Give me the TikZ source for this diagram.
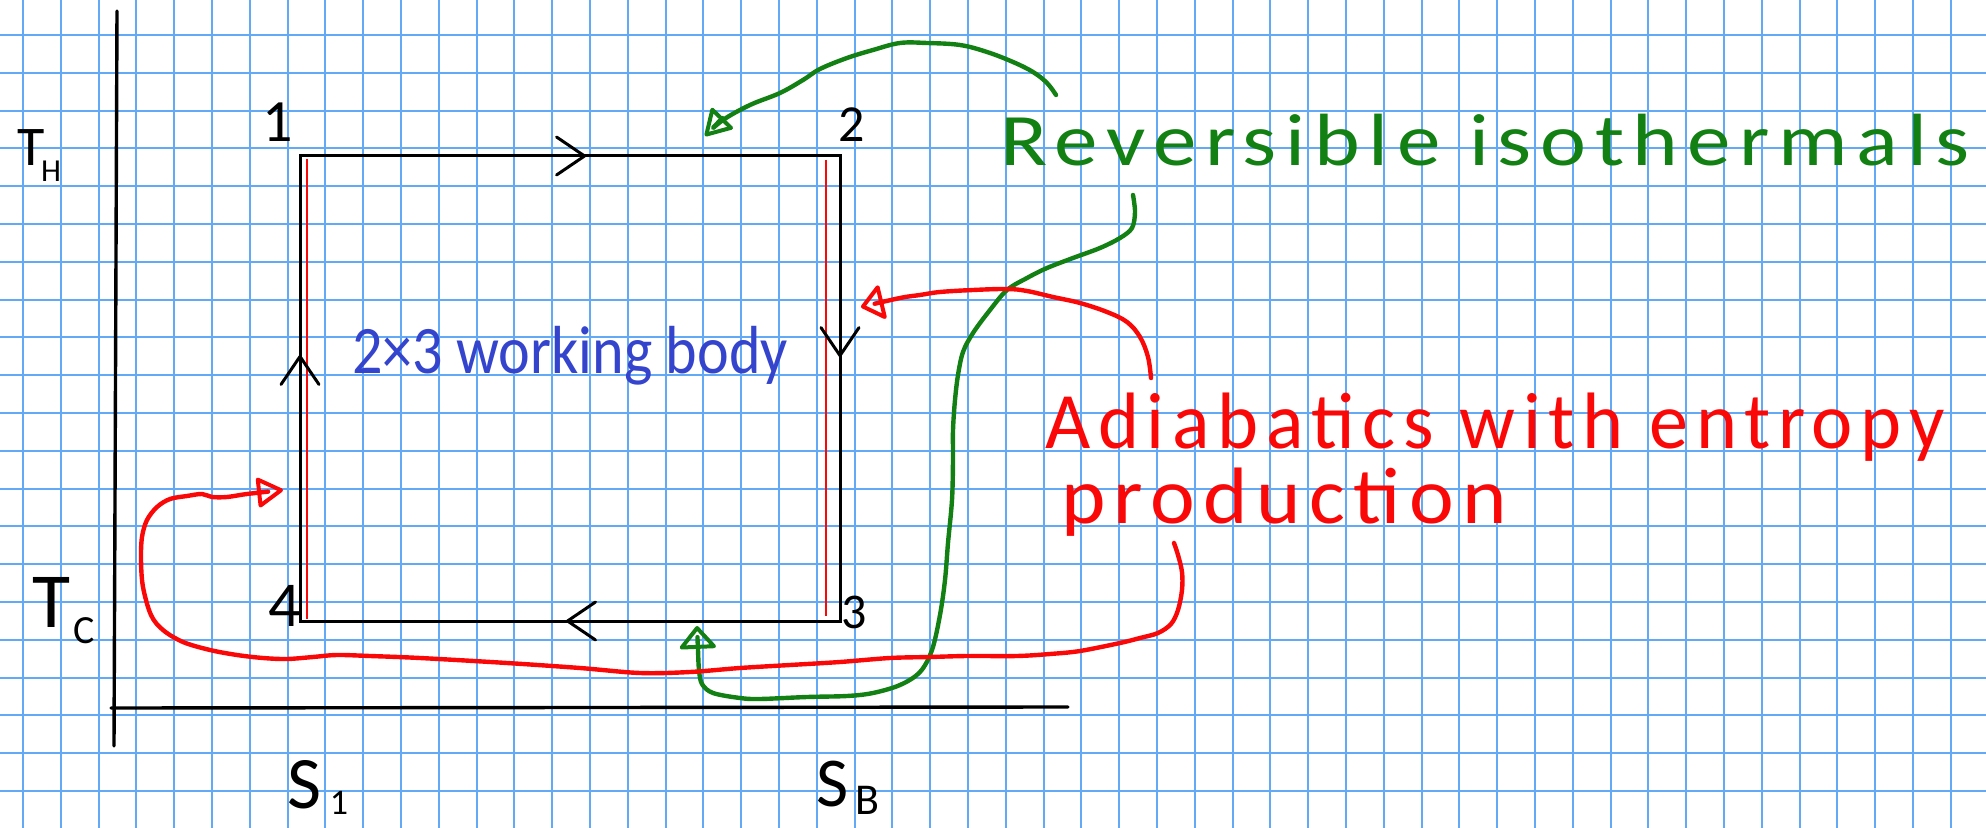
\documentclass[tikz,border=0pt]{standalone}
\usepackage{fontspec}
\usetikzlibrary{arrows.meta,decorations.markings}
\newfontfamily\hand{Carlito}
\newfontfamily\handsp[LetterSpace=10]{Carlito}
\definecolor{gridblue}{RGB}{98,170,245}
\definecolor{pengreen}{RGB}{18,128,18}
\definecolor{penred}{RGB}{250,8,8}
\definecolor{penblue}{RGB}{52,68,205}
\newsavebox\fitbox
\newcommand\fitw[2]{\sbox\fitbox{#2}\pgfmathsetmacro\fitratio{#1/\the\wd\fitbox}\scalebox{\fitratio}[1]{\usebox\fitbox}}
\newcommand\fsz[1]{\fontsize{#1}{#1}\selectfont}
\tikzset{
  gridline/.style={gridblue, line width=1pt},
  axisline/.style={black, line width=1.7pt, line cap=round},
  cyc/.style={black, line width=1.5pt},
  innerline/.style={penred, line width=1.2pt},
  gpen/.style={pengreen, line width=2.2pt, line cap=round, line join=round},
  rpen/.style={penred, line width=2.2pt, line cap=round, line join=round},
  txt/.style={inner sep=0pt, outer sep=0pt, font=\hand},
  chev/.tip={Straight Barb[length=14pt, width=19pt, line width=1.5pt, round]},
}
\begin{document}
\begin{tikzpicture}[x=0.5pt, y=-0.5pt]
\useasboundingbox (0,0) rectangle (1986,828);
\fill[white] (0,0) rectangle (1986,828);
% grid paper
\foreach \i in {0,...,51} \draw[gridline] ({23+37.8*\i},0) -- ({23+37.8*\i},828);
\foreach \j in {0,...,20} \draw[gridline] (0,{35+37.8*\j}) -- (1986,{35+37.8*\j});

% axes
\coordinate (ytop) at (117,11);
\coordinate (ybot) at (114,746);
\coordinate (xl) at (111,708);
\coordinate (xr) at (1068,707);
\draw[axisline] (ytop) -- (ybot);
\draw[axisline] (xl) -- (xr);

% cycle corners
\coordinate (c1) at (300,156);
\coordinate (c2) at (840,156);
\coordinate (c3) at (840,621);
\coordinate (c4) at (300,621);
\draw[innerline] (307,159) -- (307,619);
\draw[innerline] (826,160) -- (826,616);
\draw[cyc, postaction={decorate}, decoration={markings,
   mark=at position 0.1423 with {\arrow{chev}},
   mark=at position 0.3687 with {\arrow{chev}},
   mark=at position 0.6363 with {\arrow{chev}},
   mark=at position 0.901 with {\arrow{chev}}}]
   (c1) -- (c2) -- (c3) -- (c4) -- cycle;

% corner labels
\node[txt, anchor=base] (n1) at (278,142) {\fsz{30}1};
\node[txt, anchor=base] (n2) at (852,142) {\fsz{26}2};
\node[txt, anchor=base] (n3) at (854,628) {\fsz{25}3};
\node[txt, anchor=base] (n4) at (285,626) {\fsz{32}4};

% axis labels
\node[txt, anchor=base] (th) at (31,166) {\fsz{28}T};
\node[txt, anchor=base] (thsub) at (51,182) {\fsz{16}H};
\node[txt, anchor=base] (tc) at (52,627) {\fsz{39}T};
\node[txt, anchor=base] (tcsub) at (84,643) {\fsz{20}C};
\node[txt, anchor=base] (sa) at (304,808) {\fsz{37}S};
\node[txt, anchor=base] (sasub) at (339,814) {\fsz{18}1};
\node[txt, anchor=base] (sb) at (833,806) {\fsz{35}S};
\node[txt, anchor=base] (sbsub) at (867,814) {\fsz{22}B};

% texts
\node[txt, anchor=base west, text=penblue] (body) at (352,374)
   {\fitw{218pt}{\hand\fsz{34}2×3 working body}};
\node[txt, anchor=base west, text=pengreen] (rev) at (1000,166)
   {\fitw{485pt}{\handsp\fsz{37}Reversible isothermals}};
\node[txt, anchor=base west, text=penred] (adia) at (1045,449)
   {\fitw{450pt}{\handsp\fsz{40}Adiabatics with entropy}};
\node[txt, anchor=base west, text=penred] (prod) at (1061,523)
   {\fitw{223pt}{\handsp\fsz{40}production}};

% green arrow to the top isotherm
\coordinate (gAs) at (1056,95);
\coordinate (gAe) at (705,136);
\draw[gpen, -{Triangle[open, round, length=14pt, width=16pt, line width=2pt]}]
  plot[smooth, tension=0.6] coordinates {(gAs) (1047,83) (1033,72) (1013,62) (987,52) (960,45) (927,43) (900,43) (873,50) (847,58) (820,69) (803,80) (780,93) (750,105) (723,120) (gAe)};

% green arrow to the bottom isotherm
\coordinate (gBs) at (1133,195);
\coordinate (gBe) at (697,626);
\draw[gpen, -{Triangle[open, round, length=12pt, width=20pt, line width=2pt]}]
  plot[smooth, tension=0.55] coordinates {(gBs) (1135,212) (1132,228) (1120,238) (1100,248) (1073,258) (1047,268) (1027,278) (1007,290) (990,310) (973,333) (963,352) (958,375) (955,400) (953,430) (953,460) (952,500) (948,543) (945,580) (940,615) (932,650) (920,672) (900,685) (873,693) (847,696) (807,697) (760,699) (740,698) (713,693) (702,684) (699,670) (698,650) (gBe)};

% red arrow to the right adiabat
\coordinate (rAs) at (1151,378);
\coordinate (rAe) at (861,307);
\draw[rpen, -{Triangle[open, round, length=12pt, width=19pt, line width=2pt]}]
  plot[smooth, tension=0.6] coordinates {(rAs) (1148,357) (1140,337) (1127,322) (1107,312) (1080,303) (1053,297) (1027,291) (1007,289) (973,290) (940,292) (920,295) (900,298) (rAe)};

% red arrow to the left adiabat
\coordinate (rBs) at (1174,543);
\coordinate (rBe) at (283,490);
\draw[rpen, -{Triangle[open, round, length=14pt, width=16pt, line width=2pt]}]
  plot[smooth, tension=0.55] coordinates {(rBs) (1178,555) (1182,572) (1182,590) (1178,610) (1171,624) (1158,633) (1140,638) (1120,643) (1080,651) (1050,654) (1017,656) (967,656) (930,657) (890,658) (840,662) (790,665) (740,668) (690,672) (640,673) (580,668) (507,663) (420,658) (370,656) (337,655) (313,657) (287,659) (263,658) (237,655) (210,650) (183,642) (163,630) (151,615) (143,587) (141,560) (142,537) (147,520) (157,507) (170,499) (187,496) (202,494) (212,497) (227,497) (247,494) (rBe)};
\end{tikzpicture}
\end{document}
